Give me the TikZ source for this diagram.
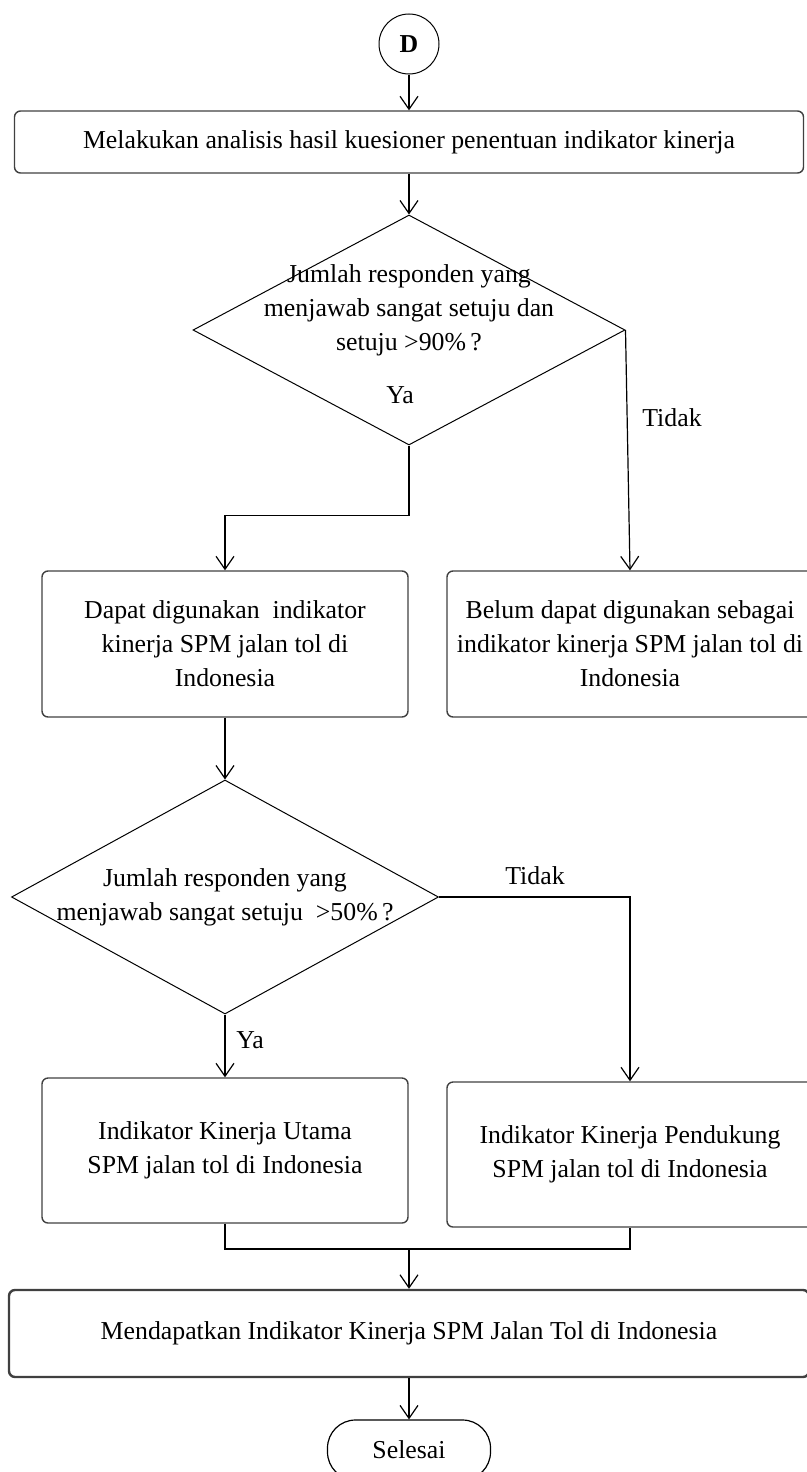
\documentclass[tikz,border=0pt]{standalone}
\usepackage{fontspec}
\setmainfont{Liberation Serif}
\usetikzlibrary{shapes.geometric,arrows.meta}

\begin{document}
\begin{tikzpicture}[x=0.5pt,y=-0.5pt,
  font=\fontsize{12.9}{17}\selectfont,
  box/.style={draw=black!75,line width=0.7pt,rounded corners=3pt,align=center,inner sep=0pt},
  dec/.style={draw,shape=diamond,line width=0.5pt,align=center,inner xsep=-40pt,inner ysep=-20pt},
  arr/.style={line width=0.6pt,-{Straight Barb[length=6.5pt,width=9pt]}},
  line/.style={line width=0.6pt}]
\useasboundingbox (0,0) rectangle (807,1472);
% start connector
\node[draw,circle,line width=0.5pt,minimum size=30pt,inner sep=0pt,font=\fontsize{12.9}{14}\selectfont\bfseries] (D) at (409,44) {D};
\node[box,minimum width=394.5pt,minimum height=31pt] (b1) at (409,142) {Melakukan analisis hasil kuesioner penentuan indikator kinerja};
% first decision
\node[dec,minimum width=216pt,minimum height=115pt] (d1) at (409,330) {Jumlah responden yang\\menjawab sangat setuju dan\\setuju >90\%\,?\\ \strut};
\node[box,minimum width=183pt,minimum height=73pt] (b2) at (225,644) {Dapat digunakan\ \ indikator\\kinerja SPM jalan tol di\\Indonesia};
\node[box,minimum width=183pt,minimum height=73pt] (b3) at (630,644) {Belum dapat digunakan sebagai\\indikator kinerja SPM jalan tol di\\Indonesia};
% second decision
\node[dec,minimum width=213.5pt,minimum height=117pt] (d2) at (225,897) {Jumlah responden yang\\menjawab sangat setuju\ \ >50\%\,?};
\node[box,minimum width=183pt,minimum height=72.5pt] (b4) at (225,1150.5) {Indikator Kinerja Utama\\SPM jalan tol di Indonesia};
\node[box,minimum width=183pt,minimum height=72.5pt] (b5) at (630,1154.5) {Indikator Kinerja Pendukung\\SPM jalan tol di Indonesia};
\node[box,line width=1.2pt,minimum width=400pt,minimum height=43.5pt] (b6) at (409,1333.5) {Mendapatkan Indikator Kinerja SPM Jalan Tol di Indonesia};
\node[draw,line width=0.6pt,rounded corners=14pt,minimum width=81.5pt,minimum height=30pt] (end) at (409,1450) {Selesai};
% labels
\node (ya1) at (400,395) {Ya};
\node (tidak1) at (672,418) {Tidak};
\node (tidak2) at (535,876) {Tidak};
\node (ya2) at (250,1040) {Ya};
% connectors
\coordinate (mrg) at (409,1249);
\draw[arr] (D) -- (b1);
\draw[arr] (b1) -- (d1);
\draw[arr] (d1.south) -- ++(0,70) -| (b2.north);
\draw[arr] (d1.east) -- (b3.north);
\draw[arr] (b2) -- (d2);
\draw[arr] (d2.east) -| (b5.north);
\draw[arr] (d2) -- (b4);
\draw[line] (b4.south) |- (mrg) -| (b5.south);
\draw[arr] (mrg) -- (b6);
\draw[arr] (b6) -- (end);
\end{tikzpicture}
\end{document}
